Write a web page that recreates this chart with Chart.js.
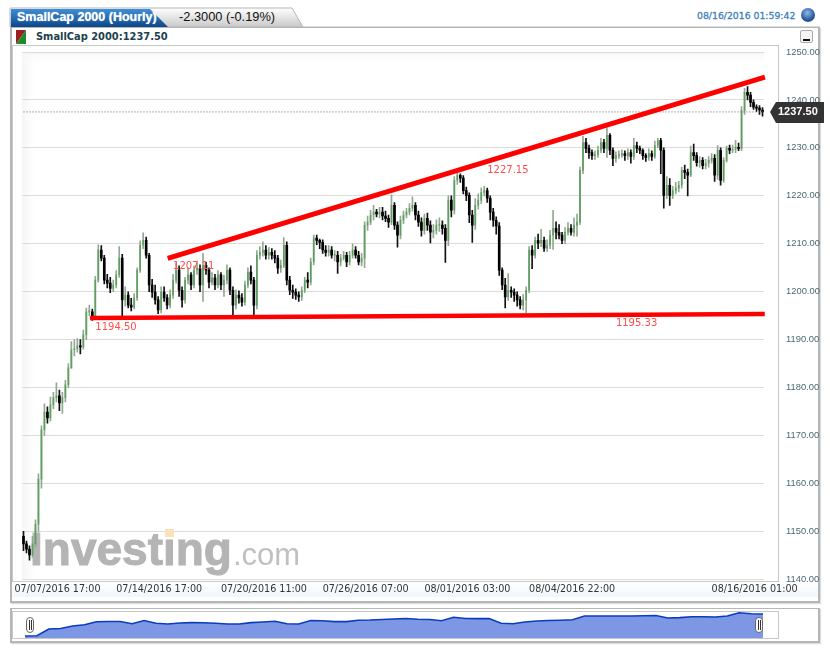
<!DOCTYPE html>
<html>
<head>
<meta charset="utf-8">
<title>SmallCap 2000 (Hourly)</title>
<script src="https://cdn.jsdelivr.net/npm/chart.js@4"></script>
<style>
html, body { margin: 0; padding: 0; background: #fff; width: 830px; height: 651px; overflow: hidden; }
.abs { position: absolute; box-sizing: border-box; }
.frame { border: 2px solid #b4b7b8; border-top-width: 1px; box-shadow: 1px 1px 1px #ddd; }
.inner { border: 1px solid #c8c8c8; background: #fff; }
#title { left: 17px; top: 8px; font: bold 12.5px "Liberation Sans"; color: #fff; line-height: 18px; white-space: nowrap; text-shadow: 0 0 1px #cfe3f5; }
#delta { left: 179px; top: 8px; font: 12.8px "Liberation Sans"; color: #111; line-height: 18px; white-space: nowrap; }
#stamp { left: 697px; top: 10px; font: 9.3px "DejaVu Sans"; color: #3f7fba; -webkit-text-stroke: 0.3px #3f7fba; line-height: 12px; white-space: nowrap; }
#legend { left: 36px; top: 31px; font: bold 9.9px "DejaVu Sans"; color: #21414f; line-height: 12px; white-space: nowrap; }
#strip { left: 12px; top: 582px; width: 806px; height: 15px; background: linear-gradient(#fff, #f0f6fb); }
#ball { left: 801px; top: 8px; width: 14px; height: 14px; border-radius: 50%; background: radial-gradient(circle at 45% 35%, #8fb8e8, #1f4f9a 65%, #8a8f99); }
#minimize { left: 800px; top: 30px; width: 13px; height: 13px; border: 1px solid #aaa; border-radius: 2px; background: #f4f4f4; }
#minimize i { position: absolute; left: 2px; bottom: 1px; width: 7px; height: 2px; background: #111; }
.grip { width: 8px; height: 16px; border: 1px solid #666; border-radius: 4px; background: #fff; top: 617px; }
.grip i { position: absolute; left: 1.5px; top: 2px; width: 1.5px; height: 10px; border-left: 1px solid #333; border-right: 1px solid #333; }
canvas { position: absolute; }
</style>
</head>
<body>

<div class="abs frame" style="left:10px;top:27px;width:810px;height:576px"></div>
<div class="abs inner" style="left:12px;top:45px;width:767px;height:537px"></div>
<div class="abs" id="strip"></div>
<svg class="abs" style="left:0;top:0" width="830" height="30">
	<defs>
		<linearGradient id="blue" x1="0" y1="0" x2="0" y2="1"><stop offset="0" stop-color="#3f8fd8"/><stop offset="1" stop-color="#0c4688"/></linearGradient>
		<linearGradient id="grey" x1="0" y1="0" x2="0" y2="1"><stop offset="0" stop-color="#fff"/><stop offset="1" stop-color="#c9c9c9"/></linearGradient>
	</defs>
	<polygon points="10,27 10,8 292,8 303,27" fill="url(#grey)" stroke="#b4b7b8"/>
	<polygon points="11,27 11,9 150,9 168,27" fill="url(#blue)"/>
	<line x1="303" y1="27" x2="820" y2="27" stroke="#b4b7b8"/>
</svg>
<div class="abs" id="title">SmallCap 2000 (Hourly)</div>
<div class="abs" id="delta">-2.3000 (-0.19%)</div>
<div class="abs" id="stamp">08/16/2016 01:59:42</div>
<div class="abs" id="ball"></div>
<svg class="abs" style="left:16px;top:30px" width="10" height="14">
	<polygon points="0,0 10,0 0,14" fill="#9c2020"/>
	<polygon points="10,0 10,14 0,14" fill="#1f8a2a"/>
</svg>
<div class="abs" id="legend">SmallCap 2000:1237.50</div>
<div class="abs" id="minimize"><i></i></div>

<canvas id="price-area" width="830" height="607" style="left:0;top:0"></canvas>

<div class="abs frame" style="left:10px;top:608px;width:810px;height:35px"></div>
<div class="abs inner" style="left:12px;top:611px;width:767px;height:28px"></div>
<canvas id="nav-area" width="738" height="27" style="left:25px;top:611px"></canvas>
<div class="abs grip" style="left:26px"><i></i></div>
<div class="abs grip" style="left:755px"><i></i></div>

<script>
var opens = [
	1149,1147.4,1146.3,1145.1,1147.4,1151.5,1160.9,1171.2,1174.9,1173.7,
	1176.4,1177.9,1178.3,1176.8,1177.9,1180.6,1184.1,1187.9,1188.1,1188.7,
	1188.5,1191,1195.8,1195.8,1194.7,1202.4,1208.7,1207,1202.4,1201.8,
	1200.7,1201.4,1203.5,1207,1198.3,1199.3,1197.2,1196.8,1198.7,1204.5,
	1209.7,1210.7,1207.6,1201.4,1199.9,1198.3,1196.2,1199.9,1198.7,1197.2,
	1199.3,1202.4,1204.5,1200.3,1198.3,1202.4,1203.5,1201.4,1204.5,1204.9,
	1201.4,1205.5,1204.5,1202,1202.9,1201.4,1203.5,1201.4,1202.4,1204.5,
	1200.3,1197.2,1199.3,1198.7,1197.8,1201.4,1204.1,1202.4,1197.2,1207.6,
	1208.2,1208.7,1207.6,1208.2,1207.6,1207,1204.9,1205.5,1209.7,1202.4,
	1200.3,1199.9,1199.3,1198.9,1200.3,1202.4,1202,1206.2,1211.2,1210.7,
	1210.3,1208.7,1208.2,1208.7,1207.6,1207.6,1206.2,1207,1207.6,1206.2,
	1207.6,1208.7,1207.6,1206.2,1207,1213.9,1214.5,1216,1216.6,1216.2,
	1216.6,1215.8,1215.3,1214.5,1218,1213.9,1211.8,1214.9,1216,1216.6,
	1217.4,1218,1216,1214.5,1212.8,1215.3,1213.9,1212.4,1212.8,1213.9,
	1213.9,1213.2,1210.7,1219.1,1217,1223.2,1224.3,1223.7,1221.1,1220.1,
	1216,1213.9,1218,1219.1,1220.7,1221.1,1219.5,1216.6,1214.9,1213.7,
	1204.5,1201.4,1198.9,1200.3,1199.9,1199.3,1198.3,1197.2,1198.3,1200.3,
	1208.7,1207.6,1210.7,1210.1,1210.7,1209.1,1209.7,1211.8,1213.2,1212.4,
	1211.8,1210.7,1212.4,1213.2,1212.4,1213.9,1214.5,1225.3,1231.1,1229.9,
	1229,1228.4,1228.6,1229.5,1231.1,1229.9,1232.6,1229.5,1227.8,1228.4,
	1228.6,1228.8,1228.4,1229,1228.2,1230.5,1229.9,1229.5,1228.4,1228,
	1228.8,1228.2,1230.5,1231.5,1229.5,1220.1,1222.2,1220.1,1221.1,1221.6,
	1222.2,1225.3,1224.9,1224.3,1229,1228.4,1226.9,1227.4,1226.3,1226.8,
	1227.4,1227.8,1224.3,1229.5,1223.2,1227.4,1229.9,1229.5,1229.7,1230.1,
	1229.9,1237.8,1241.6,1241,1239.5,1238.5,1238.3,1237.9
];
var highs = [
	1150,1148,1147,1149,1152.4,1162,1172,1176.6,1176,1178,
	1179,1181,1179.5,1179,1181.5,1185,1189.6,1190,1190.2,1190,
	1192,1196.6,1197.2,1196.4,1203.2,1209.8,1209.6,1207.6,1203.6,1203,
	1202.4,1204.4,1209.4,1207.8,1201,1200,1198.6,1199.6,1205,1210.6,
	1212.3,1211.4,1208,1202.6,1201.4,1199,1201,1201,1199.4,1200.4,
	1203.6,1206,1205.4,1201,1203,1205,1204,1205.4,1206,1205.6,
	1208,1206.2,1205,1204,1203.6,1204.4,1204,1203.4,1205.6,1205,
	1201,1200.4,1200.2,1199.6,1202.2,1205,1205.4,1203,1208.6,1209.4,
	1210.4,1209.6,1209.2,1209,1208.6,1207.6,1206.6,1211.3,1210.4,1203.2,
	1201.4,1200.6,1200,1201,1203,1204,1207,1211.8,1211.8,1211,
	1210.8,1209.6,1209.6,1209.4,1208.6,1208.4,1207.8,1208.4,1208.2,1208.4,
	1210,1209.4,1208.4,1208,1214.6,1215.8,1217,1218,1217.2,1217.6,
	1217.6,1216.8,1216,1220.2,1218.6,1214.6,1215.8,1216.8,1217.4,1218.4,
	1219.8,1218.6,1216.8,1215.4,1216.2,1216.4,1214.8,1214,1215,1215.4,
	1214.8,1214,1220,1220,1224,1224.7,1224.6,1224.2,1221.8,1220.6,
	1217,1219.4,1220.4,1221.6,1222,1221.6,1220,1217.4,1215.6,1214.4,
	1205,1202.8,1203.8,1201,1200.6,1200,1199,1199.4,1201,1209.4,
	1209.6,1211.4,1212,1213,1211.4,1210.8,1212.8,1217,1214.6,1214,
	1212.4,1213.4,1214.4,1214,1215.4,1216.2,1226,1232.4,1232,1230.6,
	1229.6,1229.4,1230.4,1232,1231.8,1234.2,1233,1230,1229.2,1229.4,
	1229.6,1229.4,1229.8,1229.6,1232,1231.2,1230.4,1229.8,1228.8,1229.8,
	1229.4,1231.4,1232,1232,1230,1224,1223.6,1222,1222.8,1223,
	1226,1226.4,1225.6,1230.4,1230.8,1229,1228.2,1228,1227.6,1228.2,
	1228.8,1228.6,1230.5,1230,1228,1230.4,1230.6,1230.6,1231.6,1231,
	1238.6,1242.4,1242.8,1241.6,1240,1239,1238.8,1238.4
];
var lows = [
	1146,1145.5,1144,1144.6,1146.8,1150,1159,1170,1172.6,1173,
	1175.6,1177,1175.2,1174.6,1177,1180,1184,1186.6,1187.4,1187,
	1188,1190,1195,1194,1194.3,1202,1206.4,1201.6,1200.8,1199.8,
	1200,1200.8,1203,1194.4,1197,1196.6,1196,1196.4,1198.2,1204,
	1209,1207,1200,1198.8,1197.4,1195.4,1195.6,1198,1196.4,1196.6,
	1198.6,1201.8,1199,1196.8,1197.6,1201.6,1200.4,1200.8,1203.6,1200,
	1198,1203.6,1200.8,1201.4,1200.4,1200.8,1200.4,1199,1201.6,1199.4,
	1195.2,1196.4,1197.6,1197,1197.2,1200.8,1201.6,1194.9,1196.4,1206.8,
	1207.4,1206.8,1206.8,1206.8,1206,1203.8,1204,1205,1201.4,1199.4,
	1198.6,1198.4,1198,1198.2,1199.8,1200.8,1201.4,1205.6,1209.8,1209,
	1208,1207.4,1207.4,1207,1206.4,1203.8,1205.4,1206.6,1205.2,1205.6,
	1207,1207,1205.6,1205.4,1205,1212.8,1214,1215,1215.6,1215.4,
	1215,1214.6,1213.4,1214,1213,1209.3,1211,1214.2,1215.4,1216,
	1216.8,1215,1213.6,1211.6,1212,1212.8,1210.2,1211.2,1212,1212.6,
	1212,1206.1,1209.6,1215.6,1216.2,1222.4,1222.8,1220.4,1219,1214.4,
	1210.3,1213,1217.2,1218.4,1220,1218.6,1215,1213.6,1212,1203.4,
	1200.4,1196.6,1198.2,1198.8,1198,1197,1196.4,1196.2,1195.6,1199.8,
	1204.8,1207,1209,1209.4,1208.4,1208.4,1209,1208.8,1211,1211,
	1210,1210,1211.8,1211.8,1211.6,1211.6,1214,1224.6,1229,1227.8,
	1227.6,1227.6,1228,1229,1229,1228,1228.6,1226.3,1227,1227.8,
	1228,1227.4,1227.6,1226.8,1227.6,1229,1228.8,1227.6,1227.2,1227.4,
	1227.4,1227.8,1230,1224.6,1217.4,1219.4,1218,1219.4,1220.4,1220.8,
	1221.6,1223.6,1220,1224,1227.4,1226.2,1226,1225.6,1225.6,1226,
	1226.8,1223,1223.4,1222.2,1222.8,1227,1228.8,1229,1229,1229.4,
	1229.4,1237,1240,1238.6,1238,1237.6,1237,1236.6
];
var closes = [
	1147.4,1146.3,1145.1,1147.4,1151.5,1160.9,1171.2,1174.9,1173.7,1176.4,
	1177.9,1178.3,1176.8,1177.9,1180.6,1184.1,1187.9,1188.1,1188.7,1188.5,
	1191,1195.8,1195.8,1194.7,1202.4,1208.7,1207,1202.4,1201.8,1200.7,
	1201.4,1203.5,1207,1198.3,1199.3,1197.2,1196.8,1198.7,1204.5,1209.7,
	1210.7,1207.6,1201.4,1199.9,1198.3,1196.2,1199.9,1198.7,1197.2,1199.3,
	1202.4,1204.5,1200.3,1198.3,1202.4,1203.5,1201.4,1204.5,1204.9,1201.4,
	1205.5,1204.5,1202,1202.9,1201.4,1203.5,1201.4,1202.4,1204.5,1200.3,
	1197.2,1199.3,1198.7,1197.8,1201.4,1204.1,1202.4,1197.2,1207.6,1208.2,
	1208.7,1207.6,1208.2,1207.6,1207,1204.9,1205.5,1209.7,1202.4,1200.3,
	1199.9,1199.3,1198.9,1200.3,1202.4,1202,1206.2,1211.2,1210.7,1210.3,
	1208.7,1208.2,1208.7,1207.6,1207.6,1206.2,1207,1207.6,1206.2,1207.6,
	1208.7,1207.6,1206.2,1207,1213.9,1214.5,1216,1216.6,1216.2,1216.6,
	1215.8,1215.3,1214.5,1218,1213.9,1211.8,1214.9,1216,1216.6,1217.4,
	1218,1216,1214.5,1212.8,1215.3,1213.9,1212.4,1212.8,1213.9,1213.9,
	1213.2,1210.7,1219.1,1217,1223.2,1224.3,1223.7,1221.1,1220.1,1216,
	1213.9,1218,1219.1,1220.7,1221.1,1219.5,1216.6,1214.9,1213.7,1204.5,
	1201.4,1198.9,1200.3,1199.9,1199.3,1198.3,1197.2,1198.3,1200.3,1208.7,
	1207.6,1210.7,1210.1,1210.7,1209.1,1209.7,1211.8,1213.2,1212.4,1211.8,
	1210.7,1212.4,1213.2,1212.4,1213.9,1214.5,1225.3,1231.1,1229.9,1229,
	1228.4,1228.6,1229.5,1231.1,1229.9,1232.6,1229.5,1227.8,1228.4,1228.6,
	1228.8,1228.4,1229,1228.2,1230.5,1229.9,1229.5,1228.4,1228,1228.8,
	1228.2,1230.5,1231.5,1229.5,1220.1,1222.2,1220.1,1221.1,1221.6,1222.2,
	1225.3,1224.9,1224.3,1229,1228.4,1226.9,1227.4,1226.3,1226.8,1227.4,
	1227.8,1224.3,1229.5,1223.2,1227.4,1229.9,1229.5,1229.7,1230.1,1229.9,
	1237.8,1241.6,1241,1239.5,1238.5,1238.3,1237.9,1237.5
];
// overview strip at the bottom, read separately since it covers a longer range
var navValues = [
	1147,1148.2,1175.9,1178,1188.3,1193.3,1205.6,1206.9,1206.9,1197.4,
	1211,1199.9,1196.6,1200.7,1202.3,1201.5,1199.9,1196.6,1196.6,1202.3,
	1204.8,1208.1,1197.4,1196.6,1211,1209.8,1206.5,1206.5,1212.3,1213.1,
	1215.1,1217.2,1219.3,1216.4,1215.1,1210,1224.2,1219.3,1218.9,1219.3,
	1199.5,1197.4,1204.8,1209,1211,1212.3,1213.9,1229.6,1229.6,1229.6,
	1229.6,1229.6,1230.4,1231.7,1221.3,1223,1226.7,1226.7,1225.5,1229.6,
	1243.2,1239.1,1237.9
];
var yTicks = [1140,1150,1160,1170,1180,1190,1200,1210,1220,1230,1240,1250];
var tickSlots = [0,34,69,103,137,172,233];
var tickLabels = ['07/07/2016 17:00','07/14/2016 17:00','07/20/2016 11:00','07/26/2016 07:00','08/01/2016 03:00','08/04/2016 22:00','08/16/2016 01:00'];
var lastPrice = 1237.50;
var upperSlots = [49,247];
var upperValues = [1207.11,1244.6];
var lowerSlots = [23,247];
var lowerValues = [1194.50,1195.33];
var noteSlots = [24,50,155,198];
var noteValues = [1194.50,1207.11,1227.15,1195.33];

var categories = closes.map(function(c, i){ return i; });
var wickColors = closes.map(function(c, i){ return c >= opens[i] ? '#93a893' : '#111'; });
var upBodies = closes.map(function(c, i){ return c >= opens[i] ? [opens[i], c] : null; });
var downBodies = closes.map(function(c, i){ return c < opens[i] ? [opens[i], c] : null; });

function toLine(slots, values) {
	return slots.map(function(s, i){ return {x: categories[s], y: values[i]}; });
}

var backdrop = {
	id: 'backdrop',
	beforeDatasetsDraw: function(chart) {
		var ctx = chart.ctx;
		ctx.save();
		ctx.textBaseline = 'alphabetic';
		ctx.fillStyle = '#b4b4b4';
		ctx.strokeStyle = '#b4b4b4';
		ctx.lineWidth = 1;
		ctx.font = 'bold 46px "Liberation Sans"';
		ctx.fillText('Investing', 30, 565);
		ctx.strokeText('Investing', 30, 565);
		ctx.fillStyle = '#c0c0c0';
		ctx.font = '31px "Liberation Sans"';
		ctx.fillText('.com', 233, 565);
		ctx.fillStyle = '#fbe2b6';
		ctx.fillRect(165, 529, 9, 8);
		ctx.restore();
	},
	beforeDraw: function(chart) {
		var ctx = chart.ctx, a = chart.chartArea, g;
		ctx.save();
		g = ctx.createLinearGradient(a.left, 0, a.left + 12, 0);
		g.addColorStop(0, '#f5f5f5');
		g.addColorStop(1, '#fff');
		ctx.fillStyle = g;
		ctx.fillRect(a.left, a.top, 12, a.bottom - a.top);
		g = ctx.createLinearGradient(0, a.top, 0, a.top + 14);
		g.addColorStop(0, 'rgba(245,245,245,1)');
		g.addColorStop(1, 'rgba(255,255,255,0)');
		ctx.fillStyle = g;
		ctx.fillRect(a.left, a.top, a.right - a.left, 14);
		ctx.restore();
	}
};

var notes = {
	id: 'notes',
	afterDatasetsDraw: function(chart) {
		var ctx = chart.ctx, x = chart.scales.x, y = chart.scales.y;
		ctx.save();
		ctx.font = '10px "DejaVu Sans"';
		ctx.fillStyle = '#ff4d4d';
		ctx.textBaseline = 'middle';
		noteSlots.forEach(function(s, i){
			ctx.fillText(noteValues[i].toFixed(2), x.getPixelForValue(s), y.getPixelForValue(noteValues[i]) + 9);
		});
		ctx.restore();
	},
	afterDraw: function(chart) {
		var ctx = chart.ctx, py = chart.scales.y.getPixelForValue(lastPrice);
		ctx.save();
		ctx.fillStyle = '#333';
		ctx.beginPath();
		ctx.moveTo(770, py);
		ctx.lineTo(776, py - 10);
		ctx.lineTo(824, py - 10);
		ctx.lineTo(824, py + 11);
		ctx.lineTo(776, py + 11);
		ctx.closePath();
		ctx.fill();
		ctx.fillStyle = '#fff';
		ctx.font = 'bold 11px "Liberation Sans"';
		ctx.textBaseline = 'middle';
		ctx.fillText(lastPrice.toFixed(2), 778, py + 0.5);
		ctx.restore();
	}
};

var config_price = {
	type: 'bar',
	data: {
		labels: categories,
		datasets: [
			{
				type: 'line', data: toLine(upperSlots, upperValues), borderColor: '#ff0000',
				borderWidth: 5, pointRadius: 0, borderCapStyle: 'square', order: 1
			},
			{
				type: 'line', data: toLine(lowerSlots, lowerValues), borderColor: '#ff0000',
				borderWidth: 4.5, pointRadius: 0, borderCapStyle: 'square', order: 1
			},
			{
				type: 'line', data: toLine([0,247], [lastPrice,lastPrice]), borderColor: '#666',
				borderWidth: 1, borderDash: [1,2], pointRadius: 0, order: 2
			},
			{
				data: downBodies, backgroundColor: '#000',
				barThickness: 2, minBarLength: 1, grouped: false, order: 3
			},
			{
				data: upBodies, backgroundColor: '#5f9f5f',
				barThickness: 1, minBarLength: 1, grouped: false, order: 3
			},
			{
				data: closes.map(function(c, i){ return [lows[i], highs[i]]; }),
				backgroundColor: wickColors, barThickness: 1, grouped: false, order: 4
			}
		]
	},
	options: {
		responsive: false,
		animation: false,
		events: [],
		layout: { padding: { left: 22, top: 52, right: 0, bottom: 0 } },
		plugins: { legend: { display: false }, tooltip: { enabled: false } },
		scales: {
			x: {
				grid: { display: false, drawTicks: false },
				border: { display: false },
				afterFit: function(scale) { scale.height = 22.6; },
				ticks: {
					autoSkip: false, maxRotation: 0, minRotation: 0, align: 'start', labelOffset: -9, padding: 4.5,
					color: '#333', font: { family: '"DejaVu Sans"', size: 9.6 },
					callback: function(value) {
						var n = tickSlots.indexOf(value);
						return n >= 0 ? tickLabels[n] : '';
					}
				}
			},
			y: {
				position: 'right',
				min: yTicks[0],
				max: yTicks[yTicks.length - 1],
				grid: { color: '#dcdcdc', drawTicks: false },
				border: { display: false },
				afterFit: function(scale) { scale.width = 66; },
				afterBuildTicks: function(scale) {
					scale.ticks = yTicks.map(function(v){ return {value: v}; });
				},
				ticks: {
					padding: 22, color: '#4d6875', font: { family: '"Liberation Sans"', size: 9.4 },
					callback: function(value) { return value.toFixed(2); }
				}
			}
		}
	},
	plugins: [backdrop, notes]
};

var config_nav = {
	type: 'line',
	data: {
		labels: navValues.map(function(v, i){ return i; }),
		datasets: [{
			data: navValues, borderColor: '#0a3cc0', borderWidth: 1.6, backgroundColor: '#7e97e4',
			fill: 'start', pointRadius: 0, tension: 0
		}]
	},
	options: {
		responsive: false,
		animation: false,
		events: [],
		plugins: { legend: { display: false }, tooltip: { enabled: false } },
		scales: {
			x: { display: false },
			y: { display: false, min: 1138.7, max: 1250.2 }
		}
	}
};

window.onload = function() {
	window.priceChart = new Chart(document.getElementById('price-area').getContext('2d'), config_price);
	window.navChart = new Chart(document.getElementById('nav-area').getContext('2d'), config_nav);
};
</script>
</body>
</html>
